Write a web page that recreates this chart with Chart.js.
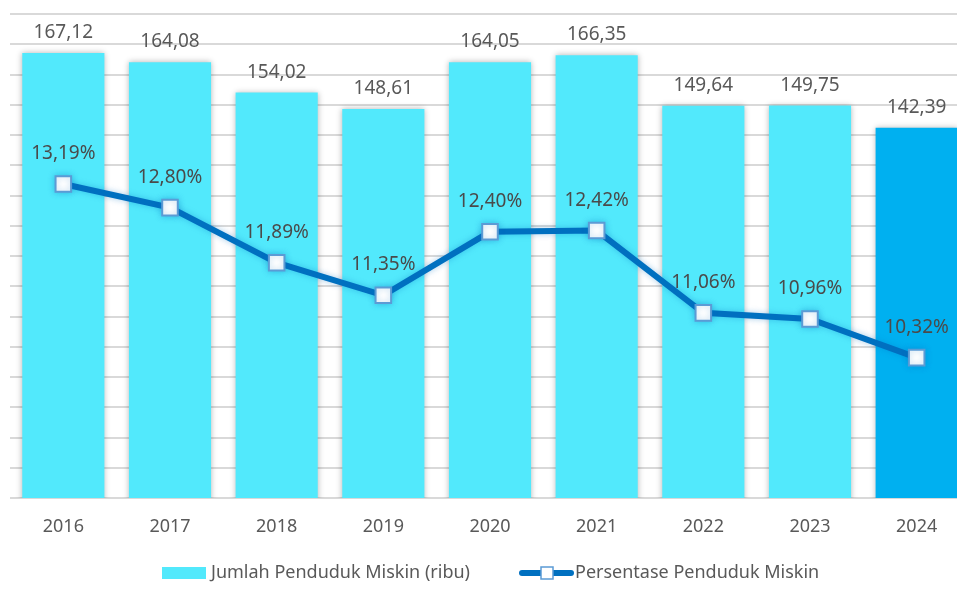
<!DOCTYPE html>
<html>
<head>
<meta charset="utf-8">
<script src="https://cdn.jsdelivr.net/npm/chart.js@4"></script>
<style>
  html, body { margin: 0; padding: 0; background: #fff; }
  #wrap { width: 957px; height: 595px; overflow: hidden; position: relative; }
  #chartCanvas { display: block; margin-left: -3px; }
</style>
</head>
<body>
<div id="wrap">
  <canvas id="chartCanvas" width="986" height="595"></canvas>
</div>
<script>
// Données
const years = ["2016", "2017", "2018", "2019", "2020", "2021", "2022", "2023", "2024"];
const jumlahMiskin = [167.12, 164.08, 154.02, 148.61, 164.05, 166.35, 149.64, 149.75, 142.39];
const persenMiskin = [13.19, 12.80, 11.89, 11.35, 12.40, 12.42, 11.06, 10.96, 10.32];
const labelJumlah = "Jumlah Penduduk Miskin (ribu)";
const labelPersen = "Persentase Penduduk Miskin";

const FONT = "'Noto Sans', 'Open Sans', sans-serif";
const TEXT_COLOR = "#595959";
const BAR_COLOR = "#52E9FC";
const BAR_LAST = "#00B0F0";
const LINE_COLOR = "#0070C0";
const MARKER_BORDER = "#5B9BD5";

function fmt(v, dec) {
    return v.toFixed(dec).replace(".", ",");
}

// Ombre des barres et de la ligne
const shadowPlugin = {
    id: "shadows",
    beforeDatasetDraw(chart, args) {
        const ctx = chart.ctx;
        ctx.save();
        if (args.meta.type === "bar") {
            ctx.shadowColor = "rgba(0,0,0,0.30)";
            ctx.shadowBlur = 6;
        } else {
            ctx.shadowColor = "rgba(0,112,192,0.35)";
            ctx.shadowBlur = 6;
        }
    },
    afterDatasetDraw(chart) {
        chart.ctx.restore();
    }
};

// Étiquettes de valeurs
const valueLabels = {
    id: "valueLabels",
    afterDatasetsDraw(chart) {
        const ctx = chart.ctx;
        ctx.save();
        ctx.fillStyle = TEXT_COLOR;
        ctx.textAlign = "center";
        ctx.textBaseline = "alphabetic";
        ctx.font = "19px " + FONT;
        chart.getDatasetMeta(0).data.forEach((bar, i) => {
            ctx.fillText(fmt(jumlahMiskin[i], 2), bar.x, bar.y - 15);
        });
        ctx.fillStyle = "#4a4a4a";
        chart.getDatasetMeta(1).data.forEach((pt, i) => {
            ctx.fillText(fmt(persenMiskin[i], 2) + "%", pt.x, pt.y - 25);
        });
        ctx.restore();
    }
};

// Légende dessinée à la main (décalée pour la marge du canvas)
const customLegend = {
    id: "customLegend",
    afterDraw(chart) {
        const ctx = chart.ctx;
        const y = 573;
        ctx.save();
        ctx.font = "18px " + FONT;
        ctx.textBaseline = "middle";
        ctx.textAlign = "left";
        let x = 165;
        ctx.fillStyle = BAR_COLOR;
        ctx.fillRect(x, y - 6, 44, 12);
        ctx.fillStyle = TEXT_COLOR;
        ctx.fillText(labelJumlah, x + 49, y);
        x = 523;
        ctx.strokeStyle = LINE_COLOR;
        ctx.lineWidth = 6;
        ctx.lineCap = "round";
        ctx.beginPath();
        ctx.moveTo(x + 2, y);
        ctx.lineTo(x + 51, y);
        ctx.stroke();
        ctx.fillStyle = "#fff";
        ctx.strokeStyle = MARKER_BORDER;
        ctx.lineWidth = 1.5;
        ctx.fillRect(x + 21, y - 6, 12, 12);
        ctx.strokeRect(x + 21, y - 6, 12, 12);
        ctx.fillStyle = TEXT_COLOR;
        ctx.fillText(labelPersen, x + 55, y);
        ctx.restore();
    }
};

const chart = new Chart(document.getElementById("chartCanvas"), {
    data: {
        labels: years,
        datasets: [{
            type: "bar",
            label: labelJumlah,
            data: jumlahMiskin,
            backgroundColor: jumlahMiskin.map((v, i) => i === jumlahMiskin.length - 1 ? BAR_LAST : BAR_COLOR),
            categoryPercentage: 1.0,
            barPercentage: 0.77,
            yAxisID: "y",
            order: 1
        }, {
            type: "line",
            label: labelPersen,
            data: persenMiskin,
            borderColor: LINE_COLOR,
            borderWidth: 6,
            tension: 0,
            pointStyle: "rect",
            pointRadius: 11,
            pointBackgroundColor: "#fff",
            pointBorderColor: MARKER_BORDER,
            pointBorderWidth: 2,
            yAxisID: "y1",
            order: 0
        }]
    },
    options: {
        responsive: false,
        animation: false,
        layout: { padding: { left: 4, right: 2, top: 14, bottom: 0 } },
        plugins: {
            legend: { display: false },
            tooltip: { enabled: false }
        },
        scales: {
            x: {
                grid: { display: false },
                border: { display: false },
                ticks: {
                    color: TEXT_COLOR,
                    font: { size: 18, family: FONT },
                    padding: 10
                },
                afterFit(scale) { scale.height = 97; }
            },
            y: {
                min: 20,
                max: 180,
                ticks: { display: false, stepSize: 10 },
                grid: { color: "#d9d9d9", lineWidth: 2, drawTicks: false },
                border: { display: false },
                afterFit(scale) { scale.width = 0; }
            },
            y1: {
                display: false,
                position: "right",
                min: 8,
                max: 16
            }
        }
    },
    plugins: [shadowPlugin, valueLabels, customLegend]
});
</script>
</body>
</html>
